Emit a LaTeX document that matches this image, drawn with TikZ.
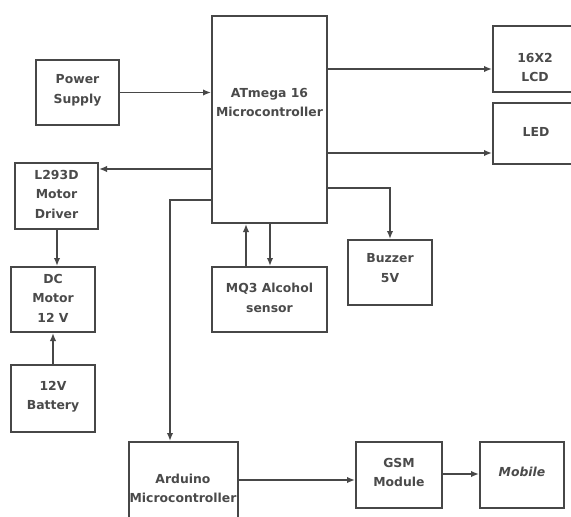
\documentclass[tikz,border=0pt]{standalone}
\usepackage{fontspec}
\setmainfont{DejaVu Sans}
\usetikzlibrary{arrows.meta}
\definecolor{linec}{HTML}{474747}
\definecolor{txtc}{HTML}{4A4A4A}
\begin{document}
\begin{tikzpicture}[x=1pt,y=-1pt,
  box/.style={draw=linec, line width=2pt, inner sep=0pt, minimum width=#1},
  lbl/.style={text=txtc, font=\fontsize{12.4}{19.5}\selectfont\bfseries, align=center, inner sep=0pt},
  arr/.style={draw=linec, line width=1.9pt, -{Latex[length=8pt,width=6.5pt]}}]
\useasboundingbox (0,0) rectangle (571,517);
\clip (0,0) rectangle (571,517);
\fill[white] (0,0) rectangle (571,517);
% boxes
\node[box=115pt, minimum height=207pt] (atm) at (269.5,119.5) {};
\node[box=83pt, minimum height=65pt] (ps) at (77.5,92.5) {};
\node[box=83pt, minimum height=66pt] (l293) at (56.5,196) {};
\node[box=84pt, minimum height=65pt] (dc) at (53,299.5) {};
\node[box=84pt, minimum height=67pt] (bat) at (53,398.5) {};
\node[box=109pt, minimum height=83pt] (ard) at (183,483.5) {};
\node[box=86pt, minimum height=66pt] (gsm) at (399,475) {};
\node[box=84pt, minimum height=66pt] (mob) at (522,475) {};
\node[box=115pt, minimum height=65pt] (mq3) at (269.5,299.5) {};
\node[box=84pt, minimum height=65pt] (buz) at (390,272.5) {};
\node[box=87pt, minimum height=66pt] (lcd) at (536.5,59) {};
\node[box=87pt, minimum height=61pt] (led) at (536.5,133.5) {};
% texts
\node[lbl] (tatm) at (269.5,102.5) {ATmega 16\\Microcontroller};
\node[lbl] (tps) at (77.5,90.5) {Power\\Supply};
\node[lbl] (tl293) at (56.5,194) {L293D\\Motor\\Driver};
\node[lbl] (tdc) at (53,298) {DC\\Motor\\12 V};
\node[lbl] (tbat) at (53,396.5) {12V\\Battery};
\node[lbl] (tard) at (183,488.5) {Arduino\\Microcontroller};
\node[lbl] (tgsm) at (399,472.5) {GSM\\Module};
\node[lbl, font=\fontsize{12.4}{19.5}\selectfont\bfseries\itshape] (tmob) at (522,472) {Mobile};
\node[lbl] (tmq3) at (269.5,298) {MQ3 Alcohol\\sensor};
\node[lbl] (tbuz) at (390,268) {Buzzer\\5V};
\node[lbl] (tlcd) at (535,67.5) {16X2\\LCD};
\node[lbl] (tled) at (536,132) {LED};
% connectors
\draw[arr] (ps.east) -- (atm.west |- ps.east);
\draw[arr] (atm.east |- 0,69) -- (lcd.west |- 0,69);
\draw[arr] (atm.east |- 0,153) -- (led.west |- 0,153);
\draw[arr] (atm.west |- 0,169) -- (l293.east |- 0,169);
\draw[arr] (atm.east |- 0,188) -| (buz.north);
\draw[arr] (atm.west |- 0,200) -| (ard.north -| 170,0);
\draw[arr] (l293.south -| 57,0) -- (dc.north -| 57,0);
\draw[arr] (bat.north) -- (dc.south);
\draw[arr] (mq3.north -| 246,0) -- (atm.south -| 246,0);
\draw[arr] (atm.south -| 270,0) -- (mq3.north -| 270,0);
\draw[arr] (ard.east |- 0,480) -- (gsm.west |- 0,480);
\draw[arr] (gsm.east |- 0,474) -- (mob.west |- 0,474);
\end{tikzpicture}
\end{document}
